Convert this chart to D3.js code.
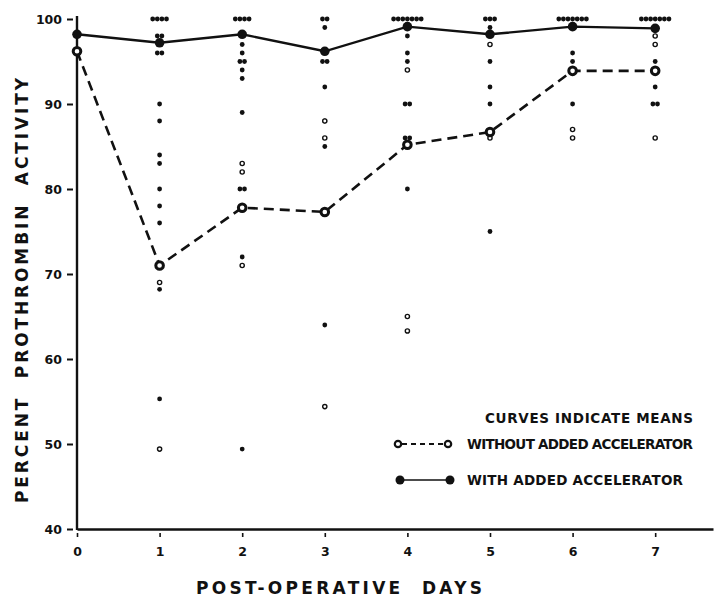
<!DOCTYPE html>
<html>
<head>
<meta charset="utf-8">
<script src="https://cdn.jsdelivr.net/npm/d3@7/dist/d3.min.js"></script>
<style>
  html, body { margin: 0; padding: 0; background: #fff; }
  svg { display: block; }
  text { font-family: "DejaVu Sans", sans-serif; font-weight: bold; fill: #111; }
</style>
</head>
<body>
<svg id="chart" width="715" height="600"></svg>
<script>
// ---------- DATA ----------
const days = [0, 1, 2, 3, 4, 5, 6, 7];
const yTicks = [40, 50, 60, 70, 80, 90, 100];
const meanWith = [98.2, 97.2, 98.2, 96.2, 99.1, 98.2, 99.1, 98.9];
const meanWithout = [96.2, 71.0, 77.8, 77.3, 85.2, 86.7, 93.9, 93.9];

// individual observations [day, percent]
const pointsWith = [
  [1,100],[1,100],[1,100],[1,100],[1,98],[1,98],[1,96],[1,96],[1,90],[1,88],[1,84],[1,83],[1,80],[1,78],[1,76],[1,68.2],[1,55.3],
  [2,100],[2,100],[2,100],[2,100],[2,97],[2,96],[2,95],[2,95],[2,94],[2,93],[2,89],[2,80],[2,80],[2,72],[2,49.4],
  [3,100],[3,100],[3,99],[3,95],[3,95],[3,92],[3,88],[3,85],[3,64],
  [4,100],[4,100],[4,100],[4,100],[4,100],[4,100],[4,100],[4,98],[4,96],[4,95],[4,90],[4,90],[4,86],[4,86],[4,80],
  [5,100],[5,100],[5,100],[5,99],[5,95],[5,92],[5,90],[5,75],
  [6,100],[6,100],[6,100],[6,100],[6,100],[6,100],[6,100],[6,96],[6,95],[6,90],
  [7,100],[7,100],[7,100],[7,100],[7,100],[7,100],[7,100],[7,95],[7,92],[7,90],[7,90]
];
const pointsWithout = [
  [1,69],[1,49.4],
  [2,83],[2,82],[2,71],
  [3,88],[3,86],[3,54.4],
  [4,94],[4,65],[4,63.3],
  [5,97],[5,86],
  [6,87],[6,86],
  [7,98],[7,97],[7,86]
];

const legendItems = ["WITHOUT ADDED ACCELERATOR", "WITH ADDED ACCELERATOR"];
const legendTitle = "CURVES INDICATE MEANS";
const xTitle = "POST-OPERATIVE  DAYS";
const yTitle = "PERCENT  PROTHROMBIN  ACTIVITY";

// ---------- LAYOUT ----------
const svg = d3.select("#chart");
const ink = "#111";
const x = d3.scaleLinear().domain([0, 7.7]).range([77, 713]);
const y = d3.scaleLinear().domain([40, 100]).range([529, 19]);

// axes
const yAxis = svg.append("g").attr("transform", `translate(${x(0)},0)`)
  .call(d3.axisLeft(y).tickValues(yTicks).tickSizeInner(6).tickSizeOuter(0).tickPadding(9));
yAxis.select(".domain").attr("stroke", ink).attr("stroke-width", 2.4).attr("d", `M0,${y(100)-3}V${y(40)+1}`);
yAxis.selectAll(".tick line").attr("x1", -4).attr("x2", -10).attr("stroke", ink).attr("stroke-width", 2);
yAxis.selectAll(".tick text").attr("font-size", 12.5).attr("font-family", "DejaVu Sans").attr("font-weight", "bold").attr("fill", ink);

const xAxis = svg.append("g").attr("transform", `translate(0,${y(40)})`)
  .call(d3.axisBottom(x).tickValues(days).tickFormat(d3.format("d")).tickSizeInner(8).tickSizeOuter(0).tickPadding(10.5));
xAxis.select(".domain").attr("stroke", ink).attr("stroke-width", 2.6);
xAxis.selectAll(".tick line").attr("y1", 4).attr("y2", 8).attr("stroke", ink).attr("stroke-width", 1.6);
xAxis.selectAll(".tick text").attr("font-size", 12.5).attr("font-family", "DejaVu Sans").attr("font-weight", "bold").attr("fill", ink);

// axis titles
svg.append("text").attr("x", 196).attr("y", 594).attr("font-size", 17)
  .style("white-space", "pre").attr("textLength", 286).attr("lengthAdjust", "spacing").text(xTitle);
svg.append("text").attr("transform", "translate(28,290.5) rotate(-90)").attr("text-anchor", "middle")
  .attr("font-size", 17).style("white-space", "pre").attr("textLength", 425).attr("lengthAdjust", "spacing").text(yTitle);

// dodge identical observations horizontally
function dodge(points, step) {
  const groups = d3.group(points, d => d[0] + "_" + d[1]);
  const out = [];
  for (const arr of groups.values()) {
    arr.forEach((d, i) => out.push({ day: d[0], v: d[1], off: (i - (arr.length - 1) / 2) * step }));
  }
  return out;
}

// scatter points
svg.append("g").selectAll("circle").data(dodge(pointsWith, 4.6)).join("circle")
  .attr("cx", d => x(d.day) + d.off).attr("cy", d => y(d.v)).attr("r", 2.4).attr("fill", ink);
svg.append("g").selectAll("circle").data(dodge(pointsWithout, 4.6)).join("circle")
  .attr("cx", d => x(d.day) + d.off).attr("cy", d => y(d.v)).attr("r", 2.1)
  .attr("fill", "#fff").attr("stroke", ink).attr("stroke-width", 1.4);

// mean curves
const line = d3.line().x((d, i) => x(days[i])).y(d => y(d));
svg.append("path").datum(meanWithout).attr("d", line).attr("fill", "none")
  .attr("stroke", ink).attr("stroke-width", 2.6).attr("stroke-dasharray", "10,6");
svg.append("path").datum(meanWith).attr("d", line).attr("fill", "none")
  .attr("stroke", ink).attr("stroke-width", 2.4);

svg.append("g").selectAll("circle").data(meanWithout).join("circle")
  .attr("cx", (d, i) => x(days[i])).attr("cy", d => y(d)).attr("r", 3.8)
  .attr("fill", "#fff").attr("stroke", ink).attr("stroke-width", 3);
svg.append("g").selectAll("circle").data(meanWith).join("circle")
  .attr("cx", (d, i) => x(days[i])).attr("cy", d => y(d)).attr("r", 4.8).attr("fill", ink);

// legend
const lg = svg.append("g");
lg.append("text").attr("x", 485).attr("y", 423).attr("font-size", 13.5)
  .attr("textLength", 208).attr("lengthAdjust", "spacing").text(legendTitle);

lg.append("line").attr("x1", 402).attr("x2", 444).attr("y1", 444).attr("y2", 444)
  .attr("stroke", ink).attr("stroke-width", 2).attr("stroke-dasharray", "5,4");
[398, 448].forEach(cx => lg.append("circle").attr("cx", cx).attr("cy", 444).attr("r", 3.2)
  .attr("fill", "#fff").attr("stroke", ink).attr("stroke-width", 2.2));
lg.append("text").attr("x", 467).attr("y", 449).attr("font-size", 13.5)
  .attr("textLength", 226).attr("lengthAdjust", "spacing").text(legendItems[0]);

lg.append("line").attr("x1", 400).attr("x2", 450).attr("y1", 480).attr("y2", 480)
  .attr("stroke", ink).attr("stroke-width", 1.6);
[400, 450].forEach(cx => lg.append("circle").attr("cx", cx).attr("cy", 480).attr("r", 4.5).attr("fill", ink));
lg.append("text").attr("x", 467).attr("y", 485).attr("font-size", 13.5)
  .attr("textLength", 216).attr("lengthAdjust", "spacing").text(legendItems[1]);
</script>
</body>
</html>
